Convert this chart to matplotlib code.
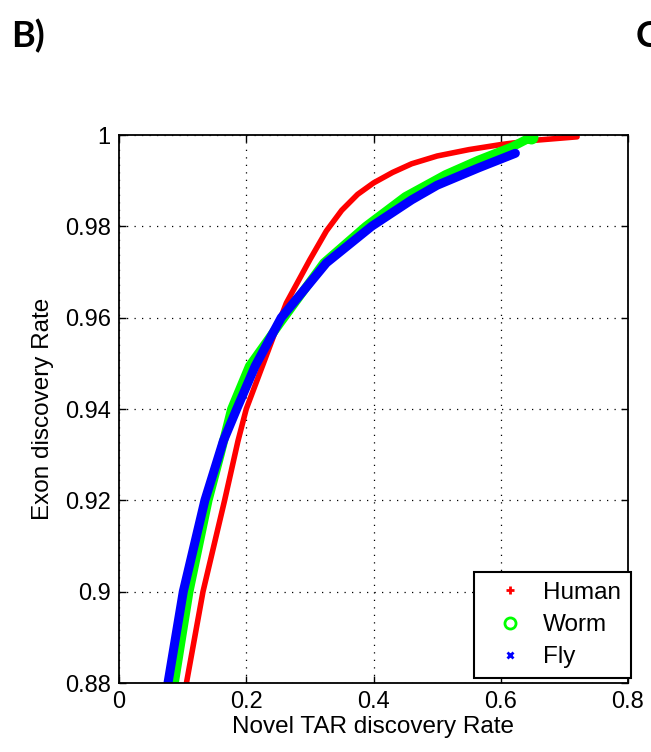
import matplotlib
matplotlib.use("Agg")
import matplotlib.pyplot as plt
from matplotlib.lines import Line2D

plt.rcParams['font.family'] = ['Liberation Sans', 'DejaVu Sans']

# curves (novel TAR rate, exon rate)
human_x = [0.106, 0.132, 0.166, 0.187, 0.200, 0.227, 0.245, 0.263, 0.300, 0.326,
           0.350, 0.375, 0.400, 0.430, 0.460, 0.500, 0.550, 0.600, 0.650, 0.720]
human_y = [0.880, 0.900, 0.920, 0.933, 0.940, 0.950, 0.9567, 0.9632, 0.9727, 0.979,
           0.9835, 0.987, 0.9895, 0.9918, 0.9937, 0.9954, 0.9968, 0.9979, 0.9988, 0.9996]

worm_x = [0.087, 0.110, 0.140, 0.159, 0.177, 0.205, 0.253, 0.322, 0.388, 0.450,
          0.513, 0.565, 0.618, 0.647]
worm_y = [0.880, 0.900, 0.920, 0.930, 0.940, 0.9494, 0.9588, 0.972, 0.980, 0.9865,
          0.9913, 0.9945, 0.9974, 0.9995]

fly_x = [0.077, 0.101, 0.135, 0.164, 0.185, 0.214, 0.255, 0.326, 0.397, 0.460,
         0.500, 0.565, 0.623]
fly_y = [0.880, 0.900, 0.920, 0.933, 0.940, 0.9494, 0.960, 0.972, 0.980, 0.9858,
         0.989, 0.9928, 0.996]

xticks = [0, 0.2, 0.4, 0.6, 0.8]
xtick_labels = ['0', '0.2', '0.4', '0.6', '0.8']
yticks = [0.88, 0.90, 0.92, 0.94, 0.96, 0.98, 1.0]
ytick_labels = ['0.88', '0.9', '0.92', '0.94', '0.96', '0.98', '1']

fig = plt.figure(figsize=(6.51, 7.52), dpi=100)
ax = fig.add_axes([119/651, 1-683/752, 509/651, 548/752])

ax.plot(human_x, human_y, color='red', linewidth=4, solid_capstyle='round',
        solid_joinstyle='round')
ax.plot(worm_x, worm_y, color='#00ff00', linewidth=6.5, solid_capstyle='round',
        solid_joinstyle='round', marker='o', markevery=[-1], markersize=9)
ax.plot(fly_x, fly_y, color='blue', linewidth=6.5, solid_capstyle='round',
        solid_joinstyle='round')

ax.set_xlim(0, 0.8)
ax.set_ylim(0.88, 1.0)
ax.set_xticks(xticks)
ax.set_xticklabels(xtick_labels)
ax.set_yticks(yticks)
ax.set_yticklabels(ytick_labels)
ax.tick_params(direction='in', top=True, right=True, length=5, width=1,
               labelsize=17, pad=6)
ax.grid(True, linestyle=(0, (1, 5)), color='black', linewidth=0.9)
for s in ax.spines.values():
    s.set_linewidth(1.3)

ax.set_xlabel('Novel TAR discovery Rate', fontsize=17.5, labelpad=2)
ax.set_ylabel('Exon discovery Rate', fontsize=17.5, labelpad=8)

handles = [Line2D([], [], color='red', marker='+', linestyle='none', markersize=6, markeredgewidth=2),
           Line2D([], [], color='#00ff00', marker='o', linestyle='none', markersize=8,
                  markerfacecolor='none', markeredgewidth=2),
           Line2D([], [], color='blue', marker='x', linestyle='none', markersize=5, markeredgewidth=2)]
leg = ax.legend(handles, ['Human', 'Worm', 'Fly'], loc='lower right',
                bbox_to_anchor=(631/651, 1-678/752), bbox_transform=fig.transFigure,
                fontsize=17.5, fancybox=False, framealpha=1, edgecolor='black',
                borderpad=0.4, labelspacing=0.42, handletextpad=0.25, handlelength=2.2,
                borderaxespad=0)
leg.get_frame().set_linewidth(1.5)

fig.text(11/651, 1-47/752, 'B)', fontsize=26, fontweight='bold', family=['Lato', 'DejaVu Sans'])
fig.text(636/651, 1-47/752, 'C', fontsize=26, fontweight='bold', family=['Lato', 'DejaVu Sans'])

fig.savefig('out.png', dpi=100)
